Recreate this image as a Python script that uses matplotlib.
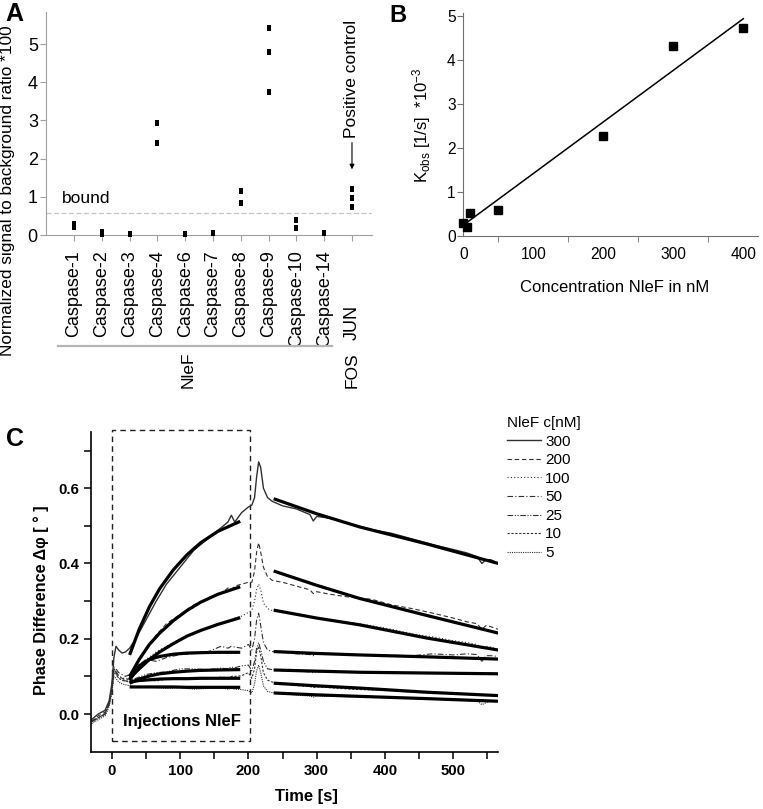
import matplotlib
matplotlib.use("Agg")
import matplotlib.pyplot as plt
from matplotlib import transforms
from matplotlib.lines import Line2D
from matplotlib.patches import Rectangle
from matplotlib.ticker import FixedLocator

plt.rcParams['font.family'] = ['Liberation Sans', 'DejaVu Sans']
plt.rcParams['mathtext.default'] = 'regular'

#---------- data, panel A ----------
categories = ['Caspase-1', 'Caspase-2', 'Caspase-3', 'Caspase-4', 'Caspase-6',
              'Caspase-7', 'Caspase-8', 'Caspase-9', 'Caspase-10', 'Caspase-14', 'JUN']
a_values = [[0.30, 0.20], [0.08, 0.03], [0.02], [2.92, 2.40], [0.02], [0.05],
            [1.16, 0.83], [5.41, 4.80, 3.74], [0.40, 0.19], [0.04], [1.20, 0.96, 0.74]]
bound_level = 0.58

#---------- data, panel B ----------
conc_b = [0, 5, 10, 50, 200, 300, 400]
kobs_b = [0.30, 0.20, 0.53, 0.60, 2.27, 4.30, 4.71]
fit_b_x = [2, 400]
fit_b_y = [0.27, 4.93]

#---------- data, panel C ----------
conc_labels = ['300', '200', '100', '50', '25', '10', '5']
trace_t = [-30, -20, -10, -4, 0, 3, 6, 10, 15, 20, 26, 35, 50, 65, 80, 100, 120, 140,
           160, 170, 175, 180, 190, 200, 205, 209, 212, 215, 218, 222, 228, 235, 250,
           270, 290, 295, 300, 320, 350, 380, 410, 440, 470, 500, 520, 535, 542, 548,
           555, 566]
trace_300 = [-0.015, 0.0, 0.01, 0.035, 0.08, 0.15, 0.18, 0.17, 0.162, 0.165, 0.175, 0.20,
             0.25, 0.30, 0.345, 0.39, 0.435, 0.465, 0.495, 0.51, 0.528, 0.51, 0.535, 0.55,
             0.555, 0.575, 0.63, 0.67, 0.655, 0.60, 0.575, 0.565, 0.553, 0.545, 0.53, 0.513,
             0.525, 0.52, 0.505, 0.49, 0.48, 0.465, 0.45, 0.437, 0.428, 0.418, 0.40, 0.41,
             0.41, 0.40]
trace_200 = [-0.02, -0.005, 0.005, 0.03, 0.07, 0.12, 0.115, 0.10, 0.095, 0.09, 0.095, 0.13,
             0.175, 0.21, 0.24, 0.265, 0.29, 0.305, 0.32, 0.335, 0.33, 0.34, 0.345, 0.35,
             0.35, 0.38, 0.43, 0.455, 0.43, 0.39, 0.365, 0.355, 0.35, 0.34, 0.33, 0.32,
             0.325, 0.318, 0.31, 0.305, 0.29, 0.28, 0.268, 0.255, 0.245, 0.24, 0.225, 0.235,
             0.232, 0.225]
trace_100 = [-0.025, -0.01, 0.0, 0.03, 0.07, 0.12, 0.115, 0.10, 0.097, 0.093, 0.095, 0.115,
             0.145, 0.165, 0.18, 0.20, 0.215, 0.228, 0.24, 0.245, 0.25, 0.255, 0.26, 0.27,
             0.275, 0.30, 0.33, 0.345, 0.33, 0.295, 0.28, 0.275, 0.272, 0.265, 0.258, 0.255,
             0.255, 0.25, 0.243, 0.235, 0.225, 0.213, 0.205, 0.195, 0.19, 0.185, 0.175, 0.18,
             0.178, 0.17]
trace_50 = [-0.02, -0.01, 0.0, 0.03, 0.07, 0.125, 0.12, 0.11, 0.105, 0.10, 0.105, 0.125,
            0.145, 0.14, 0.15, 0.158, 0.16, 0.165, 0.18, 0.175, 0.18, 0.178, 0.175, 0.185,
            0.17, 0.20, 0.25, 0.268, 0.235, 0.19, 0.17, 0.166, 0.165, 0.16, 0.158, 0.155,
            0.16, 0.16, 0.158, 0.157, 0.156, 0.155, 0.16, 0.157, 0.16, 0.158, 0.14, 0.155,
            0.155, 0.153]
trace_25 = [-0.02, -0.01, 0.0, 0.025, 0.065, 0.12, 0.11, 0.095, 0.09, 0.088, 0.088, 0.095,
            0.105, 0.11, 0.112, 0.12, 0.12, 0.118, 0.122, 0.12, 0.125, 0.123, 0.128, 0.13,
            0.115, 0.14, 0.175, 0.19, 0.17, 0.14, 0.12, 0.118, 0.115, 0.113, 0.112, 0.11,
            0.112, 0.112, 0.111, 0.11, 0.11, 0.109, 0.108, 0.108, 0.107, 0.108, 0.107, 0.107,
            0.107, 0.106]
trace_10 = [-0.02, -0.01, 0.0, 0.025, 0.06, 0.11, 0.105, 0.095, 0.09, 0.087, 0.085, 0.087,
            0.09, 0.088, 0.093, 0.095, 0.093, 0.095, 0.098, 0.097, 0.10, 0.10, 0.102, 0.11,
            0.095, 0.12, 0.165, 0.18, 0.155, 0.11, 0.09, 0.085, 0.08, 0.076, 0.073, 0.07,
            0.072, 0.07, 0.066, 0.064, 0.062, 0.058, 0.056, 0.054, 0.052, 0.05, 0.05, 0.05,
            0.05, 0.049]
trace_5 = [-0.025, -0.015, -0.005, 0.02, 0.055, 0.10, 0.095, 0.085, 0.08, 0.078, 0.075, 0.073,
           0.072, 0.07, 0.068, 0.07, 0.066, 0.068, 0.07, 0.066, 0.068, 0.066, 0.065, 0.062,
           0.056, 0.08, 0.115, 0.13, 0.11, 0.075, 0.06, 0.057, 0.055, 0.05, 0.048, 0.045,
           0.048, 0.047, 0.046, 0.045, 0.043, 0.041, 0.04, 0.038, 0.037, 0.035, 0.025, 0.03,
           0.035, 0.033]
traces = [trace_300, trace_200, trace_100, trace_50, trace_25, trace_10, trace_5]

# fitted curves (association during injection, dissociation afterwards)
assoc_t = [26, 40, 55, 70, 90, 110, 130, 155, 188]
assoc_300 = [0.157, 0.225, 0.285, 0.333, 0.383, 0.423, 0.455, 0.485, 0.512]
assoc_200 = [0.100, 0.145, 0.185, 0.215, 0.248, 0.275, 0.297, 0.318, 0.338]
assoc_100 = [0.095, 0.120, 0.145, 0.165, 0.187, 0.207, 0.222, 0.238, 0.256]
assoc_50 = [0.090, 0.128, 0.145, 0.153, 0.159, 0.162, 0.163, 0.164, 0.164]
assoc_25 = [0.082, 0.093, 0.101, 0.107, 0.111, 0.114, 0.116, 0.117, 0.118]
assoc_10 = [0.085, 0.089, 0.091, 0.093, 0.094, 0.094, 0.095, 0.095, 0.095]
assoc_5 = [0.072, 0.072, 0.072, 0.072, 0.072, 0.071, 0.071, 0.071, 0.071]
assoc_fits = [assoc_300, assoc_200, assoc_100, assoc_50, assoc_25, assoc_10, assoc_5]

dissoc_t = [237, 300, 363, 461, 566]
dissoc_300 = [0.572, 0.532, 0.497, 0.452, 0.400]
dissoc_200 = [0.380, 0.342, 0.307, 0.262, 0.215]
dissoc_100 = [0.276, 0.255, 0.237, 0.202, 0.170]
dissoc_50 = [0.166, 0.161, 0.157, 0.152, 0.146]
dissoc_25 = [0.117, 0.114, 0.111, 0.109, 0.107]
dissoc_10 = [0.082, 0.075, 0.069, 0.058, 0.049]
dissoc_5 = [0.056, 0.051, 0.047, 0.041, 0.034]
dissoc_fits = [dissoc_300, dissoc_200, dissoc_100, dissoc_50, dissoc_25, dissoc_10, dissoc_5]

trace_styles = ['-', (0, (4, 2.5)), (0, (1, 2)), (0, (5, 2, 1, 2)),
                (0, (5, 1.5, 1, 1.5, 1, 1.5)), (0, (2, 1.5)), (0, (1, 1))]

#---------- figure ----------
W, H = 763, 809
def fx(px):
    return px / W
def fy(py):
    return 1 - py / H

fig = plt.figure(figsize=(W / 100, H / 100), dpi=100)

##------ panel A ------
axA = fig.add_axes([fx(46.2), fy(235), (372 - 46.2) / W, (235 - 12) / H])
rect_marker = [(-0.6, -1), (0.6, -1), (0.6, 1), (-0.6, 1), (-0.6, -1)]
for i, vals in enumerate(a_values):
    axA.plot([i + 1] * len(vals), vals, linestyle='none', marker=rect_marker,
             ms=5, mew=0, color='k', clip_on=False, zorder=3)
axA.axhline(bound_level, color='#c4c4c4', lw=0.9, ls=(0, (4, 2)))
axA.set_xlim(0, 11.72)
axA.set_ylim(0, 5.84)
for s in ['top', 'right']:
    axA.spines[s].set_visible(False)
for s in ['left', 'bottom']:
    axA.spines[s].set_color('#a0a0a0')
axA.set_yticks([0, 1, 2, 3, 4, 5])
axA.set_xticks(range(1, len(categories) + 1))
axA.set_xticklabels(categories, rotation=90, fontsize=13)
axA.tick_params(axis='y', labelsize=13, length=4, color='#a0a0a0', pad=2)
axA.tick_params(axis='x', length=4, color='#a0a0a0', pad=7)
# JUN sits lower, next to FOS
jun = axA.get_xticklabels()[-1]
jun.set_transform(jun.get_transform() + transforms.ScaledTranslation(0, -55 / 100, fig.dpi_scale_trans))

axA.text(0.57, 0.95, 'bound', fontsize=12.5, va='center', ha='left')
axA.text(11, 4.1, 'Positive control', rotation=90, fontsize=12.5, ha='center', va='center')
axA.annotate('', xy=(11, 1.72), xytext=(11, 2.42),
             arrowprops=dict(arrowstyle='-|>', color='k', lw=0.8, mutation_scale=7, shrinkA=0, shrinkB=0))

blendA = transforms.blended_transform_factory(axA.transData, fig.transFigure)
fig.add_artist(Line2D([0.42, 10.28], [fy(346), fy(346)], transform=blendA, color='#b4b4b4', lw=1.6))
fig.text(5.12, fy(352), 'NleF', transform=blendA, rotation=90, fontsize=12.5, ha='center', va='top')
fig.text(11, fy(352), 'FOS', transform=blendA, rotation=90, fontsize=12.5, ha='center', va='top')
fig.text(fx(8), fy(191), 'Normalized signal to background ratio *100', rotation=90,
         fontsize=12.4, ha='center', va='center')
fig.text(fx(5), fy(2), 'A', fontsize=18, fontweight='bold', ha='left', va='top')

##------ panel B ------
axB = fig.add_axes([fx(463.3), fy(236), (758 - 463.3) / W, (236 - 13) / H])
axB.plot(conc_b, kobs_b, linestyle='none', marker='s', ms=6, color='k', clip_on=False, zorder=3)
axB.plot(fit_b_x, fit_b_y, color='k', lw=1.1)
axB.set_xlim(0, 421)
axB.set_ylim(0, 5.06)
for s in ['top', 'right']:
    axB.spines[s].set_visible(False)
for s in ['left', 'bottom']:
    axB.spines[s].set_color('#707070')
axB.set_xticks([0, 100, 200, 300, 400])
axB.xaxis.set_minor_locator(FixedLocator([50, 150, 250, 350]))
axB.set_yticks([0, 1, 2, 3, 4, 5])
axB.tick_params(axis='x', which='major', length=0, pad=8, labelsize=11.2)
axB.tick_params(axis='x', which='minor', length=4, color='#707070')
axB.tick_params(axis='y', length=4, color='#707070', pad=1.5, labelsize=11.2)
fig.text(fx(421.7), fy(125), r'K$_{obs}$ [1/s]  *10$^{-3}$', rotation=90,
         fontsize=12, ha='center', va='center')
fig.text(fx(615), fy(287), 'Concentration NleF in nM', fontsize=12, ha='center', va='center')
fig.text(fx(389), fy(4), 'B', fontsize=17, fontweight='bold', ha='left', va='top')

##------ panel C ------
axC = fig.add_axes([fx(90.7), fy(751.7), (498.3 - 90.7) / W, (751.7 - 431.7) / H])
handles = []
for y, ls, lab in zip(traces, trace_styles, conc_labels):
    lw = 1.0 if ls == '-' else 0.8
    h, = axC.plot(trace_t, y, color='#303030', lw=lw, ls=ls, label=lab)
    handles.append(h)
for a in assoc_fits:
    axC.plot(assoc_t, a, color='k', lw=2.3, solid_capstyle='butt')
for d in dissoc_fits:
    axC.plot(dissoc_t, d, color='k', lw=2.3, solid_capstyle='butt')

axC.add_patch(Rectangle((0, -0.071), 203, 0.826, fill=False, ec='#202020', lw=1.0,
                        ls=(0, (4, 3)), clip_on=False))
axC.text(102.5, -0.02, 'Injections NleF', fontsize=12, fontweight='bold', ha='center', va='center')

axC.set_xlim(-31, 566)
axC.set_ylim(-0.1, 0.75)
for s in ['top', 'right']:
    axC.spines[s].set_visible(False)
for s in ['left', 'bottom']:
    axC.spines[s].set_linewidth(1.2)
axC.set_xticks([0, 100, 200, 300, 400, 500])
axC.xaxis.set_minor_locator(FixedLocator([50, 150, 250, 350, 450, 550]))
axC.set_yticks([0.0, 0.2, 0.4, 0.6])
axC.yaxis.set_minor_locator(FixedLocator([0.1, 0.3, 0.5, 0.7]))
axC.tick_params(which='both', length=5, width=1.1)
axC.tick_params(axis='x', pad=4)
axC.tick_params(axis='y', pad=3)
for lab in axC.get_xticklabels():
    lab.set_fontweight('bold')
    lab.set_fontsize(10.8)
axC.set_yticklabels(['0.0', '0.2', '0.4', '0.6'], fontweight='bold', fontsize=10.8)

fig.text(fx(306), fy(796.7), 'Time [s]', fontsize=11.9, fontweight='bold', ha='center', va='center')
fig.text(fx(41.7), fy(600), 'Phase Difference Δφ [ ° ]', rotation=90, fontsize=11.7,
         fontweight='bold', ha='center', va='center')
fig.text(fx(6), fy(427), 'C', fontsize=18, fontweight='bold', ha='left', va='top')

leg = axC.legend(handles=handles, title='NleF c[nM]', loc='upper left',
                 bbox_to_anchor=(fx(507), fy(416)), bbox_transform=fig.transFigure,
                 frameon=False, fontsize=11, title_fontsize=11, handlelength=2.2,
                 handletextpad=0.3, labelspacing=0.3, borderpad=0, borderaxespad=0,
                 alignment='left')

fig.savefig('out.png', dpi=100)
